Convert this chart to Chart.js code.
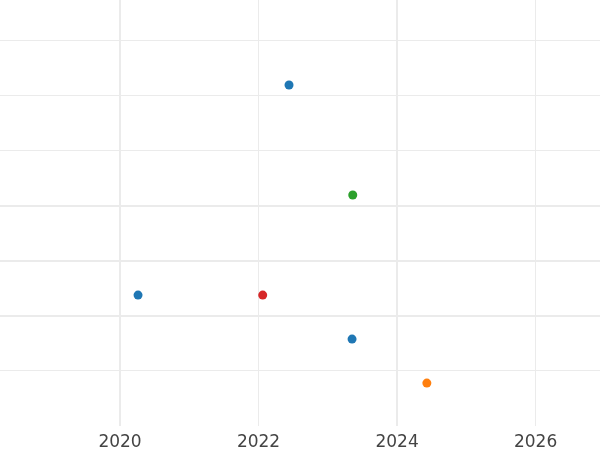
<!DOCTYPE html>
<html>
<head>
<meta charset="utf-8">
<script src="https://cdn.jsdelivr.net/npm/chart.js@4"></script>
<style>
  html, body { margin: 0; padding: 0; background: #fff; }
  #wrap { width: 600px; height: 450px; }
</style>
</head>
<body>
<div id="wrap"><canvas id="scatter-chart"></canvas></div>
<script>
// data
let blueX = [2022.44, 2020.26, 2023.35];
let blueY = [6.2, 2.38, 1.58];
let greenX = [2023.36];
let greenY = [4.2];
let redX = [2022.06];
let redY = [2.38];
let orangeX = [2024.43];
let orangeY = [0.78];

let xTicks = [2020, 2022, 2024, 2026];
let yTicks = [1, 2, 3, 4, 5, 6, 7];

function pts(xs, ys){
    return xs.map((x, i) => ({x: x, y: ys[i]}));
}

function series(xs, ys, color){
    return {
        data: pts(xs, ys),
        backgroundColor: color,
        borderColor: color,
        borderWidth: 0,
        pointRadius: 4.5,
        pointHoverRadius: 4.5
    };
}

new Chart(document.getElementById("scatter-chart"), {
    type: 'scatter',
    data: {
      datasets: [
        series(blueX, blueY, "#1f77b4"),
        series(greenX, greenY, "#2ca02c"),
        series(redX, redY, "#d62728"),
        series(orangeX, orangeY, "#ff7f0e")
      ]
    },
    options: {
      responsive: true,
      maintainAspectRatio: false,
      animation: false,
      layout: { padding: 0, autoPadding: false },
      plugins: {
        legend: { display: false },
        tooltip: { enabled: false }
      },
      scales: {
        x: {
          type: 'linear',
          min: 2018.267,
          max: 2026.93,
          afterBuildTicks: s => { s.ticks = xTicks.map(v => ({value: v})); },
          afterFit: s => { s.height = 24; },
          border: { display: false },
          grid: {
            color: "#ebebeb",
            lineWidth: c => (c.tick && (c.tick.value === 2020 || c.tick.value === 2024)) ? 2 : 1,
            drawTicks: false
          },
          ticks: {
            padding: 6,
            color: "#444",
            font: { family: "DejaVu Sans", size: 17 },
            callback: v => String(v)
          }
        },
        y: {
          type: 'linear',
          min: 0,
          max: 7.745,
          afterBuildTicks: s => { s.ticks = yTicks.map(v => ({value: v})); },
          border: { display: false },
          grid: {
            color: "#ebebeb",
            lineWidth: c => (c.tick && c.tick.value >= 2 && c.tick.value <= 4) ? 2 : 1,
            drawTicks: false
          },
          ticks: { display: false }
        }
      }
    }
  });
</script>
</body>
</html>
